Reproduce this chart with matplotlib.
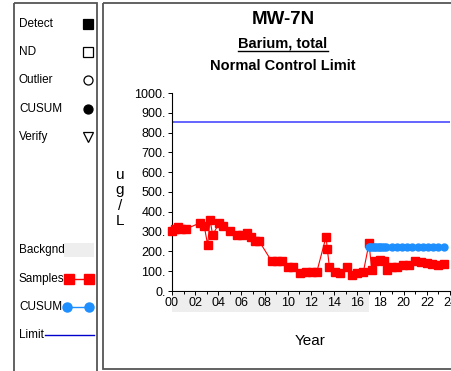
import numpy as np
import matplotlib
matplotlib.use("Agg")
import matplotlib.pyplot as plt
from matplotlib.patches import Rectangle
import matplotlib.transforms as mtransforms

plt.rcParams['font.family'] = ['Liberation Sans', 'DejaVu Sans']

# --- data --- #
years = [0.0, 0.25, 0.55, 0.8, 1.2, 2.42, 2.79, 3.08, 3.28, 3.51, 4.09, 4.43, 5.01,
         5.58, 6.02, 6.51, 6.79, 7.17, 7.51, 8.61, 9.04, 9.53, 10.05, 10.48, 11.05,
         11.54, 12.06, 12.49, 13.30, 13.41, 13.59, 14.08, 14.51, 15.08, 15.52, 15.95,
         16.52, 17.01, 17.24, 17.53, 17.96, 18.31, 18.54, 18.97, 19.46, 19.98, 20.50,
         20.98, 21.50, 21.99, 22.42, 23.0, 23.49]
values = [303, 312, 321, 315, 313, 344, 326, 232, 360, 284, 344, 326, 303,
          284, 284, 292, 275, 253, 253, 150, 150, 150, 121, 121, 91,
          94, 96, 94, 274, 210, 121, 96, 91, 121, 82, 91,
          96, 241, 108, 150, 159, 150, 108, 121, 121, 130, 130,
          150, 145, 142, 137, 130, 137]

cusum_years = [17.0, 17.1, 17.25, 17.4, 17.55, 17.7, 17.85, 18.0, 18.15, 18.3, 18.5,
               18.95, 19.4, 19.85, 20.3, 20.75, 21.2, 21.65, 22.1, 22.55, 23.0, 23.5]
cusum_values = [222] * len(cusum_years)

limit = 855
backgnd = (0, 17.0)  # background period (years)

W, H = 452, 371
fig = plt.figure(figsize=(W / 100, H / 100), dpi=100)

# overlay in pixel coords for frames / legend panel
ov = fig.add_axes([0, 0, 1, 1])
ov.set_xlim(0, W)
ov.set_ylim(H, 0)
ov.axis('off')

frame_col = '#555555'
ov.add_patch(Rectangle((14, 3), 83, 380, fill=False, ec=frame_col, lw=1.3))
ov.add_patch(Rectangle((103, 3), 370, 366, fill=False, ec=frame_col, lw=1.3))

# --- legend panel --- #
fs_leg = 8.5
top_items = [("Detect", 's', 'black', 'black'),
             ("ND", 's', 'white', 'black'),
             ("Outlier", 'o', 'white', 'black'),
             ("CUSUM", 'o', 'black', 'black'),
             ("Verify", 'v', 'white', 'black')]
for i, (lab, mk, fc, ec) in enumerate(top_items):
    yy = 24 + i * 28.2
    ov.text(19, yy, lab, fontsize=fs_leg, va='center', ha='left')
    ov.plot([88], [yy], marker=mk, ms=6.5 if mk != 'v' else 7, mfc=fc, mec=ec, mew=0.9, ls='none')

ov.text(19, 250, "Backgnd", fontsize=fs_leg, va='center', ha='left')
ov.add_patch(Rectangle((64, 243), 30, 14, fc='#eeeeee', ec='none'))

ov.text(19, 279, "Samples", fontsize=fs_leg, va='center', ha='left')
ov.plot([69, 89], [279, 279], color='#ff0000', lw=1, marker='s', ms=7, mec='#ff0000', mfc='#ff0000')

ov.text(19, 307, "CUSUM", fontsize=fs_leg, va='center', ha='left')
ov.plot([67, 89], [307, 307], color='#1e8fff', lw=1, marker='o', ms=6.5, mec='#1e8fff', mfc='#1e8fff')

ov.text(19, 335, "Limit", fontsize=fs_leg, va='center', ha='left')
ov.plot([45, 94], [335, 335], color='#0000cc', lw=1)

# --- titles --- #
cx = 283
ov.text(cx, 20, "MW-7N", fontsize=13.5, fontweight='bold', ha='center', va='center')
t2 = ov.text(cx, 43, "Barium, total", fontsize=10.5, fontweight='bold', ha='center', va='center')
ov.text(cx, 66, "Normal Control Limit", fontsize=10.5, fontweight='bold', ha='center', va='center')

# underline the subtitle
fig.canvas.draw()
bb = t2.get_window_extent().transformed(ov.transData.inverted())
ov.plot([bb.x0, bb.x1], [51, 51], color='black', lw=1)

ov.text(120, 198, "u\ng\n/\nL", fontsize=11, ha='center', va='center', linespacing=1.15)
ov.text(310, 341, "Year", fontsize=11, ha='center', va='center')

# --- main plot --- #
ax = fig.add_axes([172 / W, (H - 291) / H, 278 / W, 198 / H])
ax.patch.set_alpha(0)
ax.set_xlim(0, 24)
ax.set_ylim(0, 1000)
for s in ['top', 'right']:
    ax.spines[s].set_visible(False)
ax.spines['left'].set_linewidth(0.8)
ax.spines['bottom'].set_linewidth(0.8)

ax.set_yticks(np.arange(0, 1001, 100))
ax.set_yticklabels([f"{v}." for v in range(0, 1001, 100)])
ax.set_xticks(np.arange(0, 25, 2))
ax.set_xticklabels([f"{v:02d}" for v in range(0, 25, 2)])
ax.set_xticks(np.arange(0, 25, 1), minor=True)
ax.tick_params(axis='both', which='major', labelsize=9, length=3, width=0.7, pad=1.5)
ax.tick_params(axis='x', which='minor', length=2.5, width=0.7)

trans = mtransforms.blended_transform_factory(ax.transData, ax.transAxes)
ax.add_patch(Rectangle((backgnd[0], -0.106), backgnd[1] - backgnd[0], 0.096,
                       transform=trans, fc='#eeeeee', ec='none', clip_on=False, zorder=0))

ax.axhline(limit, color='#3b3bff', lw=1.1)
ax.plot(years, values, color='#ff0000', lw=0.8, marker='s', ms=5.5, mec='#ff0000', mfc='#ff0000',
        clip_on=False, zorder=3)
ax.plot(cusum_years, cusum_values, color='#1e8fff', lw=1, marker='o', ms=5, mec='#1e8fff',
        mfc='#1e8fff', clip_on=False, zorder=4)

fig.savefig("out.png", dpi=100)
